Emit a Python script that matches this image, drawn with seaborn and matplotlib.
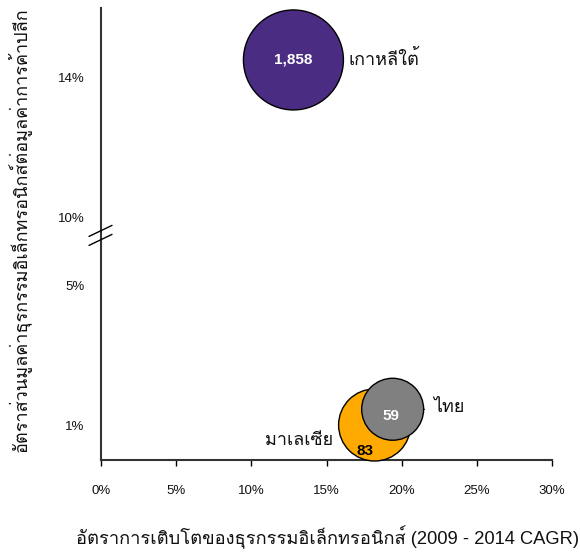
import numpy as np
import pandas as pd
import matplotlib
matplotlib.use("Agg")
import matplotlib.pyplot as plt
from matplotlib import font_manager
from matplotlib.ft2font import FT2Font
import seaborn as sns

# ---- data ----
countries = ["เกาหลีใต้", "มาเลเซีย", "ไทย"]
growth_cagr = [12.8, 18.2, 19.4]          # x, %
share_retail = [14.5, 1.0, 1.45]          # y, %
value_labels = ["1,858", "83", "59"]
x_ticks = [0, 5, 10, 15, 20, 25, 30]
y_ticks = [1, 5, 10, 14]
x_title = "อัตราการเติบโตของธุรกรรมอิเล็กทรอนิกส์ (2009 - 2014 CAGR)"
y_title = "อัตราส่วนมูลค่าธุรกรรมอิเล็กทรอนิกส์ต่อมูลค่าการค้าปลีก"

# ---- fonts: find families with Thai glyphs ----
thai_fams = []
for f in font_manager.fontManager.ttflist:
    try:
        ft = FT2Font(f.fname)
        if ft.get_char_index(ord("ก")) and f.name not in thai_fams:
            thai_fams.append(f.name)
    except Exception:
        pass

sns.set_theme(style="white")
fams = ["Liberation Sans"] + thai_fams + ["DejaVu Sans"]
plt.rcParams["font.family"] = fams

df = pd.DataFrame({"country": countries, "x": growth_cagr, "y": share_retail})
palette = {"เกาหลีใต้": "#4B2C83", "มาเลเซีย": "#FFAA00", "ไทย": "#808080"}
sizes = {"เกาหลีใต้": 5184, "มาเลเซีย": 2690, "ไทย": 1990}

fig = plt.figure(figsize=(5.8, 5.55), dpi=100)
ax = fig.add_axes([101 / 580, 95 / 555, 451 / 580, 452 / 555])

# broken y scale
xp = np.array([-100, 6.37, 9.45, 200.0])
fp = np.array([-100, 6.37, 6.38, 6.38 + 190.55])
fwd = lambda v: np.interp(v, xp, fp)
inv = lambda v: np.interp(v, fp, xp)
ax.set_yscale("function", functions=(fwd, inv))

sns.scatterplot(data=df, x="x", y="y", hue="country", palette=palette,
                size="country", sizes=sizes, edgecolor="black", linewidth=1,
                legend=False, ax=ax, alpha=1, zorder=3)
for coll in ax.collections:
    coll.set_clip_on(False)

ax.set_xlim(0, 30)
ax.set_ylim(0, inv(452 / 35))

ax.set_xticks(x_ticks)
ax.set_xticklabels([f"{t}%" for t in x_ticks])
ax.set_yticks(y_ticks)
ax.set_yticklabels([f"{t}%" for t in y_ticks])
ax.tick_params(axis="x", length=4, width=1, color="black", direction="out", pad=14,
               labelsize=9.5, bottom=True, labelcolor="#111111")
ax.tick_params(axis="y", length=0, pad=12, labelsize=9.5, left=False, labelcolor="#111111")
for s in ["top", "right"]:
    ax.spines[s].set_visible(False)
for s in ["left", "bottom"]:
    ax.spines[s].set_color("#333333")
    ax.spines[s].set_linewidth(1.5)

ax.set_xlabel(x_title, fontsize=13.2, color="#111111")
ax.xaxis.set_label_coords(0.502, -0.146)
ax.set_ylabel(y_title, fontsize=13, color="#111111")
ax.yaxis.set_label_coords(-0.155, 0.51)

# value labels
val_off = [(0, 0), (-7, -19), (-1, -5)]
val_col = ["white", "black", "white"]
for xv, yv, lab, off, c in zip(growth_cagr, share_retail, value_labels, val_off, val_col):
    ax.annotate(lab, (xv, yv), xytext=off, textcoords="offset points",
                ha="center", va="center", fontsize=11, fontweight="bold", color=c,
                zorder=5, annotation_clip=False)

# country labels
name_off = [(40, 0, "left"), (-30, -11, "right"), (29, 1, "left")]
for xv, yv, name, (dx, dy, ha) in zip(growth_cagr, share_retail, countries, name_off):
    ax.annotate(name, (xv, yv), xytext=(dx, dy), textcoords="offset points",
                ha=ha, va="center", fontsize=13, color="#111111", annotation_clip=False)
# leader for Thailand
ax.annotate("", (growth_cagr[2], share_retail[2]), xytext=(23, 0), textcoords="offset points",
            arrowprops=dict(arrowstyle="-", color="black", lw=0.8, shrinkA=0, shrinkB=22.5))

# axis break marks
for yc in (231.9, 240.9):
    yl = (460 - (yc + 4.5)) / 452
    yr = (460 - (yc - 6.5)) / 452
    ax.plot([-12 / 451, 11 / 451], [yl, yr], transform=ax.transAxes, color="black",
            lw=1, clip_on=False, zorder=6)

fig.savefig("out.png", dpi=100)
